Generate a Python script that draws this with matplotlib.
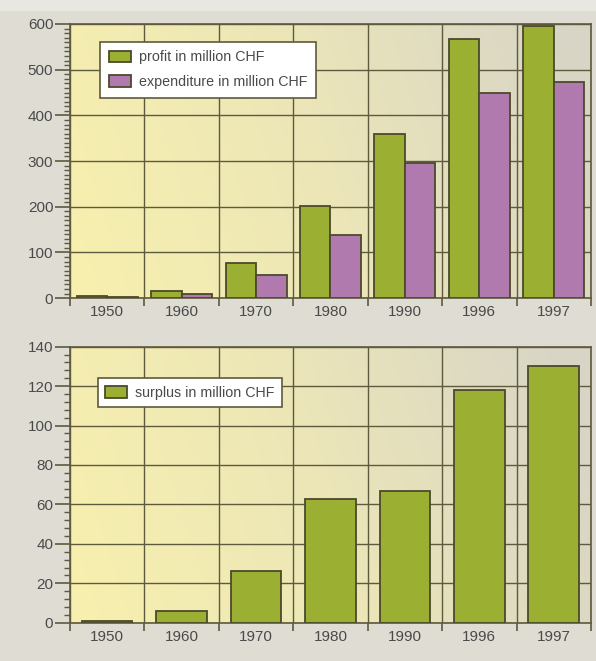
import numpy as np
import matplotlib.pyplot as plt
from matplotlib.colors import LinearSegmentedColormap
from matplotlib.ticker import MultipleLocator, FixedLocator
from matplotlib.patches import Rectangle

plt.rcParams['font.family'] = ['Liberation Sans', 'DejaVu Sans']

years = ['1950', '1960', '1970', '1980', '1990', '1996', '1997']
profit = [4, 15, 76, 202, 360, 568, 595]
expenditure = [3, 10, 50, 139, 295, 449, 472]
surplus = [1, 6, 26, 63, 67, 118, 130]

green = '#9bb033'
purple = '#b07aae'
edge = '#4b4a2c'
grid_col = '#5d5a3e'
text_col = '#4a4a4a'
fig_bg = '#dedcd3'

# yellow on the left fading to grey-beige on the right
bg_cmap = LinearSegmentedColormap.from_list('bg', ['#f8f0ae', '#ece6b8', '#d8d5c6'])


def paint_background(ax):
    xx = np.linspace(0, 1, 256)
    yy = np.linspace(0, 1, 64)
    X, Y = np.meshgrid(xx, yy)
    grad = np.clip(X * 0.9 + (Y) * 0.15, 0, 1)
    ax.imshow(grad, extent=[0, 1, 0, 1], transform=ax.transAxes, cmap=bg_cmap,
              aspect='auto', origin='lower', zorder=0, vmin=0, vmax=1)


def style_axes(ax, ymax, ymajor, yminor):
    n = len(years)
    ax.set_xlim(-0.5, n - 0.5)
    ax.set_ylim(0, ymax)
    ax.yaxis.set_major_locator(MultipleLocator(ymajor))
    ax.yaxis.set_minor_locator(MultipleLocator(yminor))
    # boundaries get tick marks and grid, centers get the labels
    ax.xaxis.set_major_locator(FixedLocator(np.arange(-0.5, n, 1.0)))
    ax.xaxis.set_minor_locator(FixedLocator(np.arange(n)))
    ax.set_xticklabels([])
    ax.set_xticks(np.arange(n), years, minor=True)
    ax.tick_params(axis='x', which='major', length=6, width=1.2, color=grid_col)
    ax.tick_params(axis='x', which='minor', length=0, pad=5, labelsize=11, labelcolor=text_col)
    ax.tick_params(axis='y', which='major', length=11, width=1.2, color=grid_col,
                   labelsize=11, labelcolor=text_col, pad=1)
    ax.tick_params(axis='y', which='minor', length=4, width=1, color=grid_col)
    ax.grid(True, which='major', color=grid_col, linewidth=1.0)
    ax.set_axisbelow(True)
    for s in ax.spines.values():
        s.set_color(grid_col)
        s.set_linewidth(1.2)
    ax.set_facecolor('none')


fig = plt.figure(figsize=(5.96, 6.61), dpi=100, facecolor=fig_bg)
# lighter strip along the top edge of the scan
fig.patches.append(Rectangle((0, 0.983), 1, 0.017, transform=fig.transFigure,
                             facecolor='#e9e7e1', edgecolor='none', zorder=0))
ax1 = fig.add_axes([0.1174, 0.549, 0.8742, 0.4147])
ax2 = fig.add_axes([0.1174, 0.0579, 0.8742, 0.4176])

x = np.arange(len(years))
w = 0.41

paint_background(ax1)
ax1.bar(x - w / 2, profit, w, color=green, edgecolor=edge, linewidth=1.3,
        label='profit in million CHF', zorder=3)
ax1.bar(x + w / 2, expenditure, w, color=purple, edgecolor=edge, linewidth=1.3,
        label='expenditure in million CHF', zorder=3)
style_axes(ax1, 600, 100, 10)
leg1 = ax1.legend(loc='upper left', bbox_to_anchor=(0.058, 0.935), fancybox=False,
                  framealpha=1, edgecolor=grid_col, fontsize=10.3, labelcolor=text_col,
                  handlelength=1.55, handleheight=0.9, borderpad=0.6, labelspacing=0.75,
                  handletextpad=0.55, borderaxespad=0)
leg1.get_frame().set_linewidth(1.2)

paint_background(ax2)
ax2.bar(x, surplus, 0.68, color=green, edgecolor=edge, linewidth=1.3,
        label='surplus in million CHF', zorder=3)
style_axes(ax2, 140, 20, 4)
leg2 = ax2.legend(loc='upper left', bbox_to_anchor=(0.054, 0.885), fancybox=False,
                  framealpha=1, edgecolor=grid_col, fontsize=10.3, labelcolor=text_col,
                  handlelength=1.55, handleheight=0.9, borderpad=0.5,
                  handletextpad=0.55, borderaxespad=0)
leg2.get_frame().set_linewidth(1.2)

fig.savefig('out.png', dpi=100, facecolor=fig_bg)
